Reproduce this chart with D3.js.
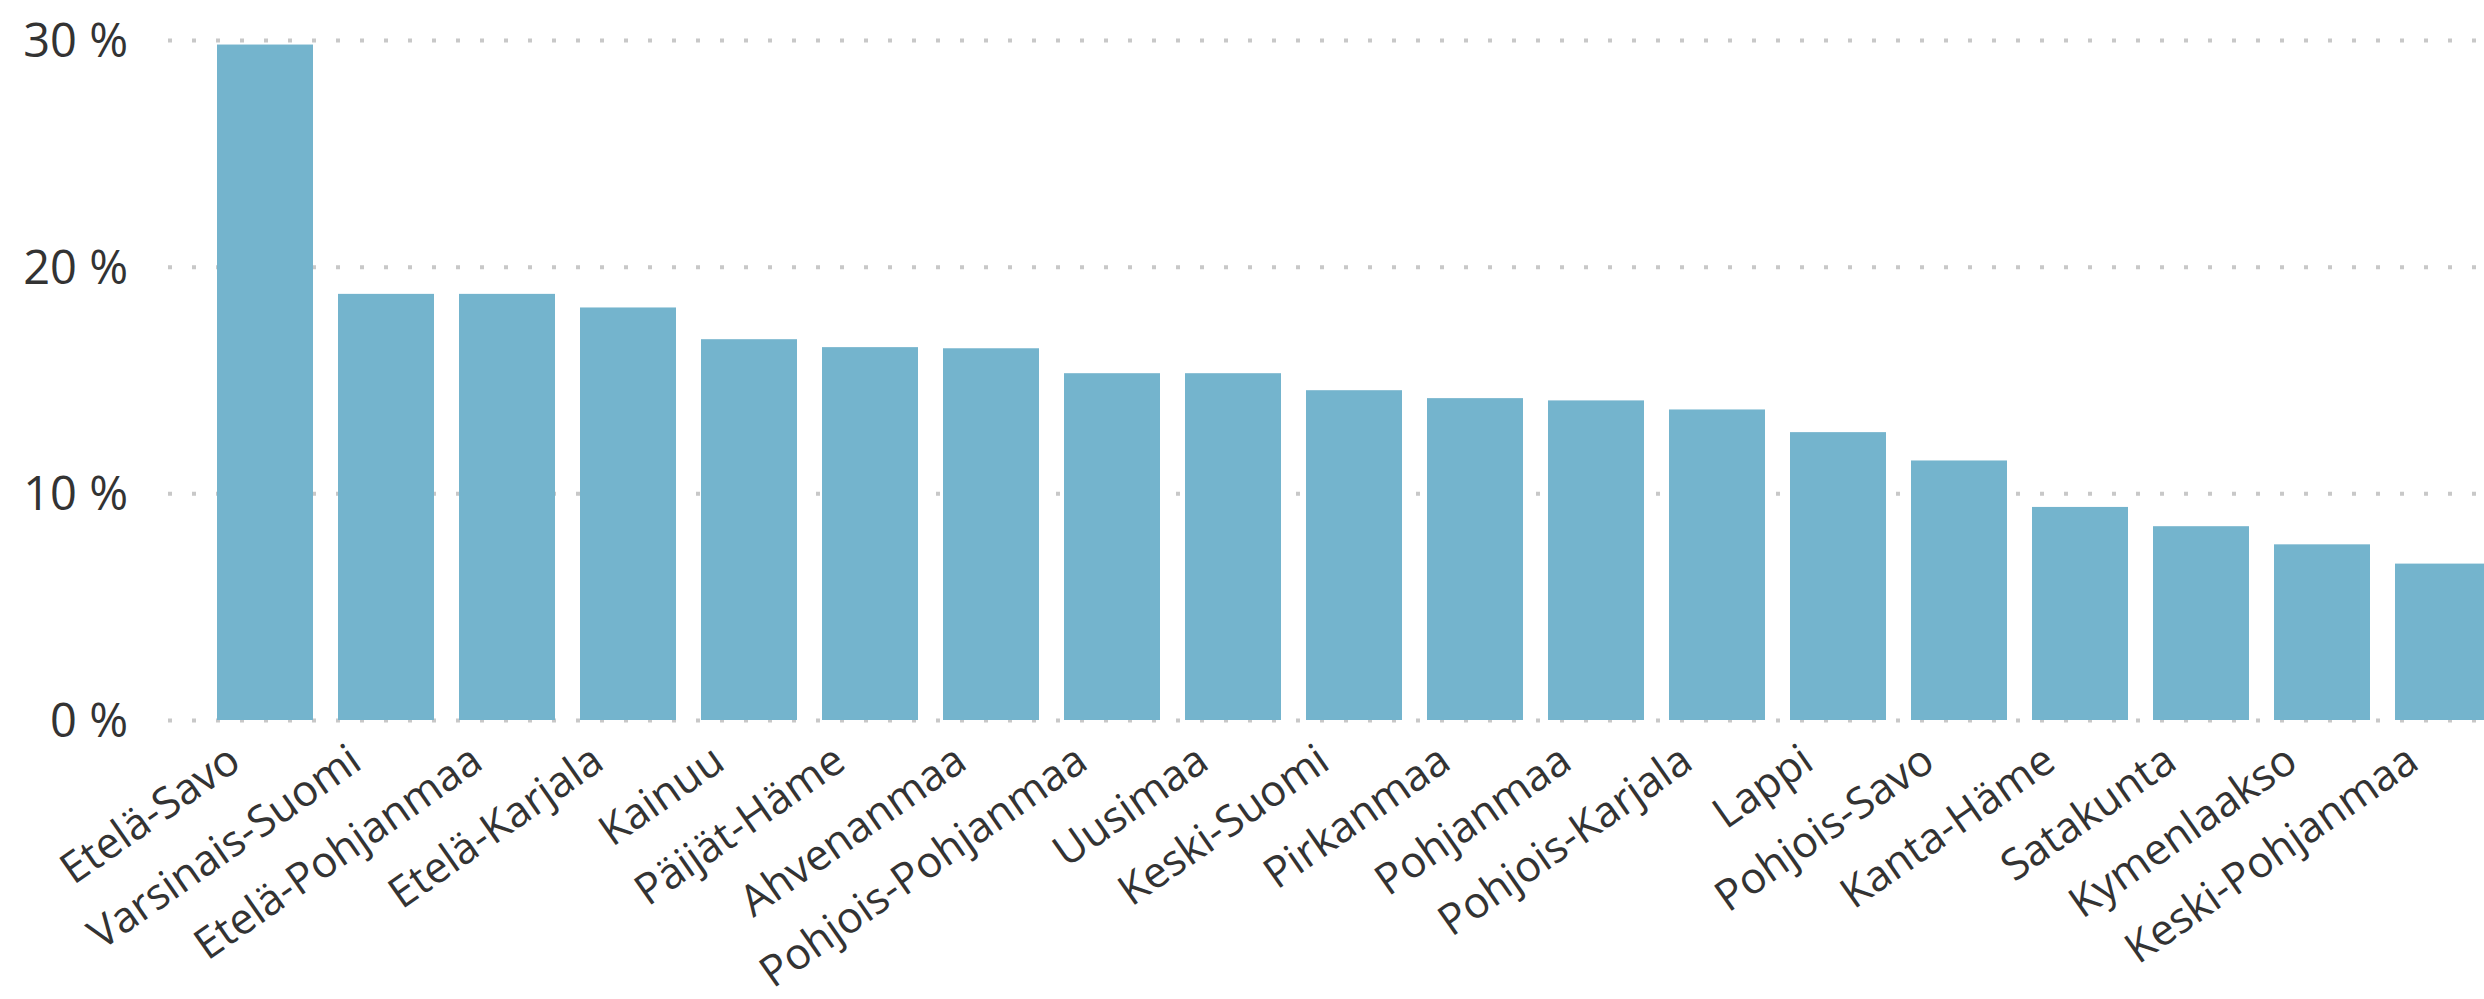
<!DOCTYPE html>
<html lang="fi">
  <head>
    <meta charset="utf-8">
    <title>Maakunnat</title>
    <style>
      body { margin: 0; background: #fff; }

      .grid line {
        stroke: #c8c8c8;
        stroke-width: 4px;
        stroke-dasharray: 4 20;
      }

      .bars rect {
        fill: #74b4cd;
      }

      .ylabels text, .xlabels text {
        font-family: "Open Sans", "Noto Sans", sans-serif;
        fill: #333;
      }
    </style>
  </head>
  <body>
    <svg width="2484" height="999"></svg>
    <script src="https://d3js.org/d3.v7.min.js"></script>
    <script>
var regions = [
	'Etelä-Savo', 'Varsinais-Suomi', 'Etelä-Pohjanmaa', 'Etelä-Karjala', 'Kainuu',
	'Päijät-Häme', 'Ahvenanmaa', 'Pohjois-Pohjanmaa', 'Uusimaa', 'Keski-Suomi',
	'Pirkanmaa', 'Pohjanmaa', 'Pohjois-Karjala', 'Lappi', 'Pohjois-Savo',
	'Kanta-Häme', 'Satakunta', 'Kymenlaakso', 'Keski-Pohjanmaa'
];
var shares = [
	29.8, 18.8, 18.8, 18.2, 16.8,
	16.45, 16.4, 15.3, 15.3, 14.55,
	14.2, 14.1, 13.7, 12.7, 11.45,
	9.4, 8.55, 7.75, 6.9
];
var yTicks = [0, 10, 20, 30];

var svg = d3.select('svg'),
	width = +svg.attr('width'),
	height = +svg.attr('height');

var data = regions.map(function(r, i) {
	return { name: r, value: shares[i] };
});

// band scale runs past the right edge, last bar gets clipped like in the original
var x = d3
	.scaleBand()
	.domain(regions)
	.range([192, 192 + 121 * (regions.length + 0.2066)])
	.padding(0.2066);

var y = d3
	.scaleLinear()
	.domain([0, 30])
	.range([720, 40]);

svg
	.append('g')
	.attr('class', 'grid')
	.selectAll('line')
	.data(yTicks)
	.enter()
	.append('line')
	.attr('x1', 168)
	.attr('x2', width)
	.attr('y1', function(d) {
		return y(d) + 0.5;
	})
	.attr('y2', function(d) {
		return y(d) + 0.5;
	});

svg
	.append('g')
	.attr('class', 'bars')
	.selectAll('rect')
	.data(data)
	.enter()
	.append('rect')
	.attr('x', function(d) {
		return x(d.name);
	})
	.attr('y', function(d) {
		return y(d.value);
	})
	.attr('width', x.bandwidth())
	.attr('height', function(d) {
		return y(0) - y(d.value);
	});

svg
	.append('g')
	.attr('class', 'ylabels')
	.selectAll('text')
	.data(yTicks)
	.enter()
	.append('text')
	.attr('x', 128)
	.attr('y', function(d) {
		return y(d);
	})
	.attr('dy', '0.36em')
	.attr('text-anchor', 'end')
	.style('font-size', '47px')
	.text(function(d) {
		return d + ' %';
	});

// rotated category labels, end of text tucked under left half of the bar
svg
	.append('g')
	.attr('class', 'xlabels')
	.selectAll('text')
	.data(regions)
	.enter()
	.append('text')
	.attr('text-anchor', 'end')
	.attr('transform', function(d) {
		return 'translate(' + (x(d) + x.bandwidth() / 2 - 22) + ',767) rotate(-35)';
	})
	.style('font-size', '43px')
	.text(function(d) {
		return d;
	});
</script>
  </body>
</html>
